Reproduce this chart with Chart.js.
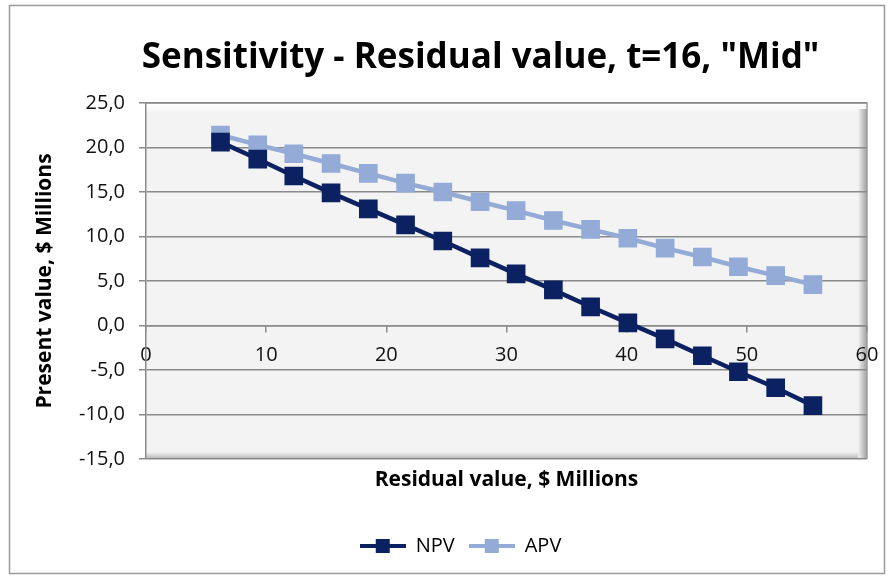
<!DOCTYPE html>
<html lang="en">
<head>
    <meta charset="UTF-8">
    <title>Sensitivity - Residual value</title>
    <script src="https://cdn.jsdelivr.net/npm/chart.js"></script>
    <style>
        body { margin: 0; background: #fff; }
        .wrap { width: 891px; height: 576px; }
    </style>
</head>
<body>
    <div class="wrap"><canvas id="chart" width="891" height="576"></canvas></div>
    <script>
        // residual value ($ millions) and present values
        const residual = [6.2, 9.3, 12.3, 15.4, 18.5, 21.6, 24.7, 27.8, 30.8, 33.9, 37.0, 40.1, 43.2, 46.3, 49.3, 52.4, 55.5];
        const npv = [20.6, 18.7, 16.8, 14.9, 13.1, 11.3, 9.5, 7.6, 5.8, 4.0, 2.1, 0.3, -1.5, -3.4, -5.2, -7.0, -9.0];
        const apv = [21.4, 20.3, 19.3, 18.2, 17.1, 16.0, 15.0, 13.9, 12.9, 11.8, 10.8, 9.8, 8.7, 7.7, 6.6, 5.6, 4.6];

        const NAVY = "#0b2161";
        const LIGHT = "#93abd6";
        const FONT = "'Open Sans', sans-serif";

        function toPoints(ys) {
            return ys.map((y, i) => ({ x: residual[i], y: y }));
        }

        // legend symbol: short line with a square in the middle
        function legendIcon(color) {
            const c = document.createElement("canvas");
            c.width = 46; c.height = 14;
            const g = c.getContext("2d");
            g.strokeStyle = color; g.lineWidth = 4;
            g.beginPath(); g.moveTo(0, 7); g.lineTo(46, 7); g.stroke();
            g.fillStyle = color;
            g.fillRect(16, 0, 14, 14);
            return c;
        }

        // frame + plot area with excel-ish bevel
        const backdrop = {
            id: "backdrop",
            afterLayout(chart) {
                // excel centres title and legend a bit to the right
                chart.titleBlock.left += 74;
                chart.legend.left += 34;
            },
            beforeDraw(chart) {
                const ctx = chart.ctx;
                const a = chart.chartArea;
                ctx.save();
                ctx.fillStyle = "#fff";
                ctx.fillRect(0, 0, chart.width, chart.height);
                ctx.strokeStyle = "#9a9a9a";
                ctx.lineWidth = 1.5;
                ctx.strokeRect(9.5, 5.5, 875, 568);

                ctx.fillStyle = "#f3f3f3";
                ctx.fillRect(a.left, a.top, a.right - a.left, a.bottom - a.top);
                let gt = ctx.createLinearGradient(0, a.top, 0, a.top + 10);
                gt.addColorStop(0, "#ffffff");
                gt.addColorStop(1, "#f3f3f3");
                ctx.fillStyle = gt;
                ctx.fillRect(a.left, a.top, a.right - a.left, 10);
                let gr = ctx.createLinearGradient(a.right - 9, 0, a.right, 0);
                gr.addColorStop(0, "#f3f3f3");
                gr.addColorStop(1, "#9f9f9f");
                ctx.fillStyle = gr;
                ctx.fillRect(a.right - 9, a.top + 6, 9, a.bottom - a.top - 6);
                let gb = ctx.createLinearGradient(0, a.bottom - 7, 0, a.bottom);
                gb.addColorStop(0, "#f3f3f3");
                gb.addColorStop(1, "#b4b4b4");
                ctx.fillStyle = gb;
                ctx.fillRect(a.left, a.bottom - 7, a.right - a.left - 9, 7);
                ctx.strokeStyle = "#a0a0a0";
                ctx.lineWidth = 1.5;
                ctx.beginPath();
                ctx.moveTo(a.left, a.top); ctx.lineTo(a.right, a.top); ctx.lineTo(a.right, a.bottom);
                ctx.stroke();
                ctx.restore();
            }
        };

        new Chart(document.getElementById("chart"), {
            type: "line",
            data: {
                datasets: [
                    { label: "NPV", data: toPoints(npv), borderColor: NAVY, backgroundColor: NAVY,
                      borderWidth: 4.5, pointStyle: "rect", pointRadius: 10, pointHoverRadius: 10 },
                    { label: "APV", data: toPoints(apv), borderColor: LIGHT, backgroundColor: LIGHT,
                      borderWidth: 4.5, pointStyle: "rect", pointRadius: 10, pointHoverRadius: 10 }
                ]
            },
            options: {
                responsive: false,
                animation: false,
                layout: { padding: { left: 20, right: 24, top: 0, bottom: 10 } },
                plugins: {
                    tooltip: { enabled: false },
                    title: {
                        display: true,
                        text: 'Sensitivity - Residual value, t=16, "Mid"',
                        color: "#000",
                        font: { family: FONT, size: 35, weight: "bold" },
                        padding: { top: 37, bottom: 24 }
                    },
                    legend: {
                        position: "bottom",
                        labels: {
                            usePointStyle: true,
                            pointStyleWidth: 46,
                            boxHeight: 14,
                            color: "#000",
                            font: { family: FONT, size: 20 },
                            padding: 14,
                            generateLabels(chart) {
                                return chart.data.datasets.map((ds, i) => ({
                                    text: ds.label,
                                    pointStyle: legendIcon(ds.borderColor),
                                    fillStyle: ds.borderColor,
                                    strokeStyle: ds.borderColor,
                                    fontColor: "#000",
                                    lineWidth: 0,
                                    datasetIndex: i
                                }));
                            }
                        }
                    }
                },
                scales: {
                    x: {
                        type: "linear",
                        position: { y: 0 },
                        min: 0, max: 60,
                        ticks: { stepSize: 10, color: "#111", font: { family: FONT, size: 20 }, padding: 12 },
                        grid: { drawOnChartArea: false, drawTicks: true, tickLength: 6, color: "#8a8a8a", lineWidth: 1.5 },
                        border: { display: true, color: "#8a8a8a", width: 1.5 }
                    },
                    x2: {
                        type: "linear",
                        position: "bottom",
                        min: 0, max: 60,
                        ticks: { display: false },
                        grid: { display: false },
                        border: { display: false },
                        title: {
                            display: true,
                            text: "Residual value, $ Millions",
                            color: "#000",
                            font: { family: FONT, size: 21, weight: "bold" },
                            padding: { top: 0, bottom: 29 }
                        },
                        afterFit(scale) { scale.height = 63; }
                    },
                    y: {
                        min: -15, max: 25,
                        ticks: {
                            stepSize: 5,
                            color: "#111",
                            font: { family: FONT, size: 20 },
                            padding: 14,
                            callback: v => v.toFixed(1).replace(".", ",")
                        },
                        grid: { color: "#8a8a8a", lineWidth: 1.5, tickLength: 7 },
                        border: { display: true, color: "#8a8a8a", width: 1.5 },
                        title: {
                            display: true,
                            text: "Present value, $ Millions",
                            color: "#000",
                            font: { family: FONT, size: 21, weight: "bold" },
                            padding: { top: 12, bottom: 0 }
                        },
                        afterFit(scale) { scale.width = 126; }
                    }
                }
            },
            plugins: [backdrop]
        });
    </script>
</body>
</html>
